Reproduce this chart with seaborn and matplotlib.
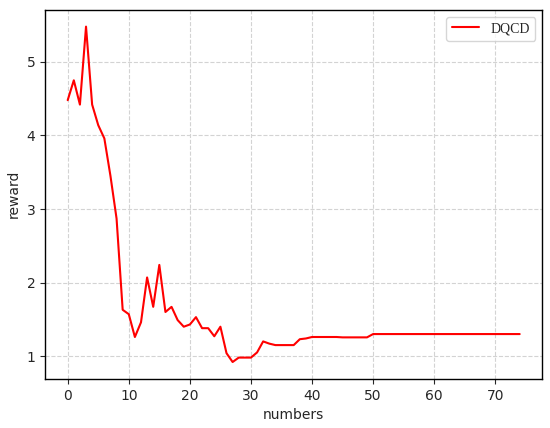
import pandas as pd
import seaborn as sns
import matplotlib.pyplot as plt

# Reward per episode
numbers = list(range(75))
reward = [
    4.48, 4.75, 4.42, 5.48, 4.42, 4.14, 3.96, 3.45, 2.87, 1.63,
    1.57, 1.26, 1.46, 2.07, 1.67, 2.24, 1.60, 1.67, 1.49, 1.40,
    1.43, 1.53, 1.38, 1.38, 1.27, 1.40, 1.04, 0.92, 0.98, 0.98,
    0.98, 1.05, 1.20, 1.17, 1.15, 1.15, 1.15, 1.15, 1.23, 1.24,
    1.26, 1.26, 1.26, 1.26, 1.26, 1.255, 1.255, 1.255, 1.255, 1.255,
    1.30, 1.30, 1.30, 1.30, 1.30, 1.30, 1.30, 1.30, 1.30, 1.30,
    1.30, 1.30, 1.30, 1.30, 1.30, 1.30, 1.30, 1.30, 1.30, 1.30,
    1.30, 1.30, 1.30, 1.30, 1.30,
]
series_name = "DQCD"

df = pd.DataFrame({"numbers": numbers, "reward": reward})

sns.set_style("ticks")
plt.rcParams['font.family'] = ['DejaVu Sans']

fig, ax = plt.subplots(figsize=(5.5, 4.28), dpi=100)
sns.lineplot(data=df, x="numbers", y="reward", color="red", linewidth=1.5,
             label=series_name, ax=ax)

ax.grid(True, linestyle="--", color="#d3d3d3", linewidth=0.8)
ax.set_xlabel("numbers", fontsize=10)
ax.set_ylabel("reward", fontsize=10)
ax.tick_params(labelsize=10)
for s in ax.spines.values():
    s.set_color("black")
    s.set_linewidth(1.0)

ax.legend(loc="upper right", prop={"family": "Liberation Serif", "size": 10})

fig.subplots_adjust(left=0.082, right=0.986, top=0.977, bottom=0.115)
fig.savefig("out.png", dpi=100)
